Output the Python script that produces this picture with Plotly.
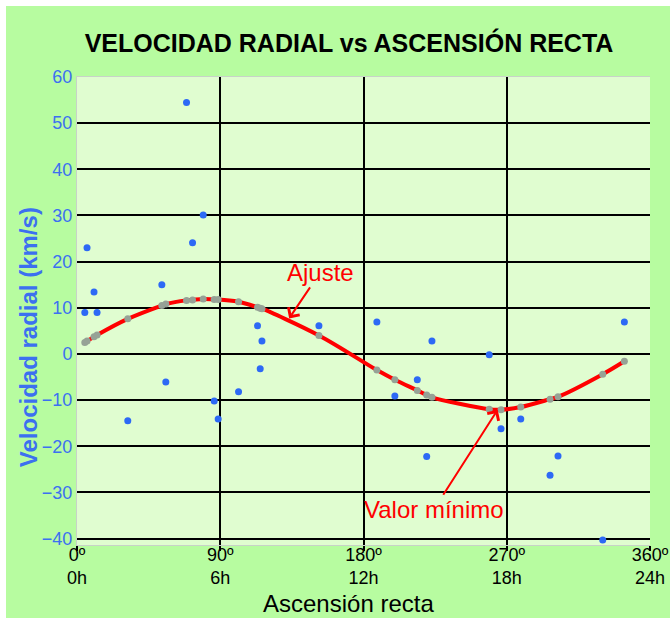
import plotly.graph_objects as go

# Right ascension (degrees) of each object
ra = [4.9, 6.3, 10.7, 12.6, 31.9, 53.3, 55.8, 68.8, 72.6, 79.3, 86.2, 88.7, 101.5,
      113.4, 115.1, 116.2, 152.0, 188.4, 199.7, 213.8, 219.7, 223.0, 259.0, 266.4,
      278.8, 297.2, 302.2, 330.3, 343.9]
# Observed radial velocity (km/s)
v_obs = [9.0, 23.0, 13.4, 9.0, -14.5, 15.0, -6.1, 54.5, 24.1, 30.1, -10.2, -14.1, -8.2,
         6.1, -3.2, 2.8, 6.1, 6.9, -9.1, -5.6, -22.2, 2.8, -0.2, -16.2,
         -14.1, -26.3, -22.1, -40.3, 6.9]
# Fitted radial velocity at the same RA (km/s)
v_fit = [2.5, 2.8, 3.7, 4.1, 7.6, 10.5, 10.8, 11.6, 11.7, 11.9, 11.8, 11.8, 11.3,
         10.1, 9.9, 9.8, 4.0, -3.5, -5.6, -7.9, -8.9, -9.4, -12.0, -12.1,
         -11.5, -9.8, -9.3, -4.4, -1.6]

x_tickvals = [0, 90, 180, 270, 360]
x_ticktext = ["0º<br>0h", "90º<br>6h", "180º<br>12h", "270º<br>18h", "360º<br>24h"]
y_tickvals = [-40, -30, -20, -10, 0, 10, 20, 30, 40, 50, 60]

FONT = "Arial, 'Liberation Sans', sans-serif"
BLUE = "rgb(60,112,240)"
GREEN_OUT = "rgb(183,252,160)"
GREEN_IN = "rgb(224,253,208)"

fig = go.Figure()
fig.add_trace(go.Scatter(x=ra, y=v_fit, mode="lines",
                         line=dict(color="rgb(255,0,0)", width=4, shape="spline"),
                         hoverinfo="skip", showlegend=False))
fig.add_trace(go.Scatter(x=ra, y=v_fit, mode="markers",
                         marker=dict(color="rgb(150,162,150)", size=7),
                         showlegend=False))
fig.add_trace(go.Scatter(x=ra, y=v_obs, mode="markers",
                         marker=dict(color="rgb(45,105,245)", size=7),
                         showlegend=False))

fig.update_layout(
    width=664, height=612,
    margin=dict(l=71, r=20, t=71, b=73, autoexpand=False),
    paper_bgcolor=GREEN_OUT,
    plot_bgcolor=GREEN_IN,
    font=dict(family=FONT),
    showlegend=False,
    title=dict(text="<b>VELOCIDAD RADIAL vs ASCENSIÓN RECTA</b>",
               x=0.5166, xanchor="center", xref="container",
               y=0.9395, yanchor="middle", yref="container",
               font=dict(size=25, color="black", family=FONT)),
    xaxis=dict(range=[0, 360], tickmode="array", tickvals=x_tickvals,
               ticktext=x_ticktext, showgrid=True, gridcolor="black", gridwidth=1.5,
               zeroline=False, ticks="outside", ticklen=5, tickcolor="black",
               tickwidth=1.5, ticklabelstandoff=-12, automargin=False,
               tickfont=dict(size=18, color="black", family=FONT),
               showline=True, linecolor="rgb(200,210,200)", linewidth=1, mirror=True),
    yaxis=dict(range=[-41.4, 60], tickmode="array", tickvals=y_tickvals,
               showgrid=True, gridcolor="black", gridwidth=1.5,
               zeroline=True, zerolinecolor="black", zerolinewidth=1.5,
               ticks="", automargin=False,
               tickfont=dict(size=18, color=BLUE, family=FONT),
               showline=True, linecolor="rgb(200,210,200)", linewidth=1),
    annotations=[
        dict(text="<b>Velocidad radial (km/s)</b>", xref="paper", yref="paper",
             x=-0.0855, y=0.444, textangle=-90, showarrow=False,
             font=dict(size=24, color=BLUE, family=FONT),
             xanchor="center", yanchor="middle"),
        dict(text="Ascensión recta", xref="paper", yref="paper",
             x=0.473, y=-0.124, showarrow=False,
             font=dict(size=24, color="black", family=FONT),
             xanchor="center", yanchor="middle"),
        dict(text="Ajuste", x=133.3, y=7.7, xref="x", yref="y",
             ax=31, ay=-46, showarrow=True, arrowhead=4, arrowsize=1.3,
             arrowwidth=2, arrowcolor="rgb(255,0,0)",
             font=dict(size=24, color="rgb(255,0,0)", family=FONT)),
        dict(text="Valor mínimo", x=264.3, y=-12.1, xref="x", yref="y",
             ax=-64, ay=100, showarrow=True, arrowhead=4, arrowsize=1.3,
             arrowwidth=2, arrowcolor="rgb(255,0,0)",
             font=dict(size=24, color="rgb(255,0,0)", family=FONT)),
    ],
)

fig.write_html("out.html",
               post_script="document.body.style.margin='6px 0 0 6px';")
